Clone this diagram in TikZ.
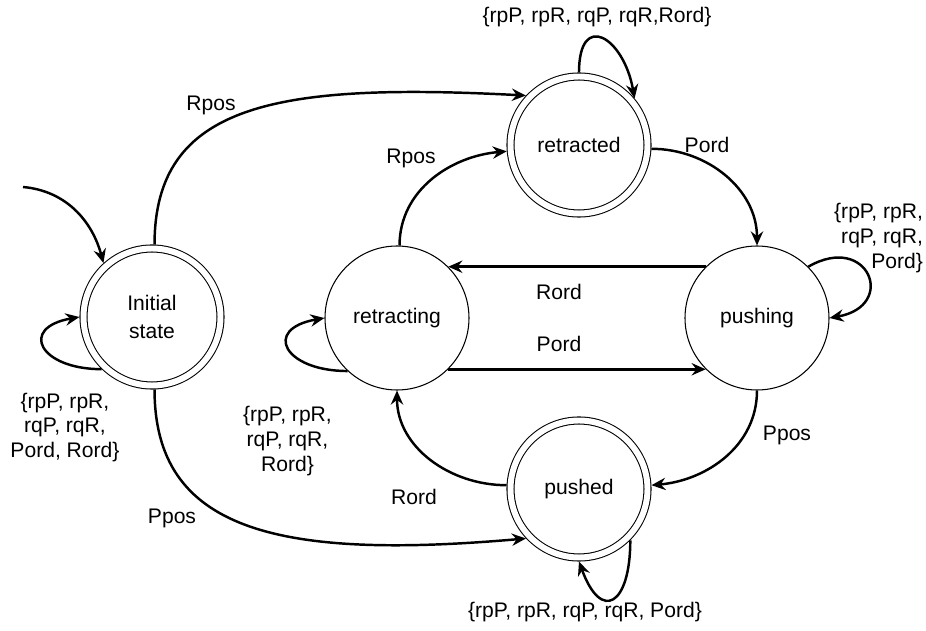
\documentclass[tikz,border=0pt]{standalone}
\usepackage{fontspec}
\setmainfont{Liberation Sans}
\usetikzlibrary{arrows.meta, positioning}

\begin{document}
\begin{tikzpicture}[
    >={Stealth[length=8pt, width=7pt, inset=2.7pt]},
    every node/.style={font=\fontsize{12}{14}\selectfont},
    state/.style={circle, draw, line width=0.6pt, minimum size=2.88cm, inner sep=0pt, align=center},
    accept/.style={circle, draw, line width=0.6pt, double, double distance=3.4pt, minimum size=2.74cm, inner sep=0pt, outer sep=2.3pt, align=center},
    trans/.style={->, line width=1.4pt},
    lbl/.style={align=center, inner sep=1pt}
]

\useasboundingbox (0,0) rectangle (18.52,-12.62);

% -------------------------------------------------------------------------
% States
% -------------------------------------------------------------------------
\node[accept] (Init) at (3.04, -6.34) {Initial\\[2pt]state};
\node[state] (Retr) at (7.94, -6.36) {retracting};
\node[state] (Push) at (15.14, -6.36) {pushing};
\node[accept] (Retd) at (11.58, -2.90) {retracted};
\node[accept] (Pshd) at (11.58, -9.78) {pushed};

% Entry point
\coordinate (start) at (0.46, -3.74);

% -------------------------------------------------------------------------
% Transition labels
% -------------------------------------------------------------------------
\node[lbl] (rposA) at (4.22, -2.10) {Rpos};
\node[lbl] (rposB) at (8.22, -3.16) {Rpos};
\node[lbl] (pordA) at (14.14, -2.90) {Pord};
\node[lbl] (rordA) at (11.18, -5.84) {Rord};
\node[lbl] (pordB) at (11.18, -6.88) {Pord};
\node[lbl] (pposA) at (15.74, -8.70) {Ppos};
\node[lbl] (rordB) at (8.28, -9.94) {Rord};
\node[lbl] (pposB) at (3.44, -10.36) {Ppos};

% Self-loop labels
\node[lbl] (setInit) at (1.30, -8.55) {\{rpP, rpR,\\rqP, rqR,\\Pord, Rord\}};
\node[lbl] (setRetr) at (5.75, -8.82) {\{rpP, rpR,\\rqP, rqR,\\Rord\}};
\node[lbl, align=right, anchor=east] (setPush) at (18.50, -4.76) {\{rpP, rpR,\\rqP, rqR,\\Pord\}};
\node[lbl] (setRetd) at (11.94, -0.34) {\{rpP, rpR, rqP, rqR,Rord\}};
\node[lbl] (setPshd) at (11.70, -12.24) {\{rpP, rpR, rqP, rqR, Pord\}};

% -------------------------------------------------------------------------
% Transitions
% -------------------------------------------------------------------------

% Initial state
\draw[trans] (start) to[out=-5, in=105] (Init.132);
\draw[trans] (Init.226) to[out=180, in=190, looseness=2.8] (Init.180);
\draw[trans] (Init.88) to[out=90, in=177, out looseness=0.9, in looseness=1.6] (Retd.137);
\draw[trans] (Init.-88) to[out=-90, in=185, out looseness=0.9, in looseness=1.6] (Pshd.223);

% retracting
\draw[trans] (Retr.88) to[out=90, in=185] (Retd.185);
\draw[trans] (Retr.227) to[out=180, in=190, looseness=2.8] (Retr.180);
\draw[trans] (Retr.-45) -- (Push.-135);

% retracted
\draw[trans] (Retd.90) to[out=90, in=100, looseness=2.6] (Retd.40);
\draw[trans] (Retd.-3) to[out=0, in=90] (Push.90);

% pushing
\draw[trans] (Push.135) -- (Retr.45);
\draw[trans] (Push.45) to[out=30, in=10, looseness=3.2] (Push.0);
\draw[trans] (Push.-90) to[out=-90, in=5] (Pshd.3);

% pushed
\draw[trans] (Pshd.177) to[out=180, in=-90] (Retr.-90);
\draw[trans] (Pshd.-45) to[out=-90, in=-70, looseness=3] (Pshd.-90);

\end{tikzpicture}
\end{document}
